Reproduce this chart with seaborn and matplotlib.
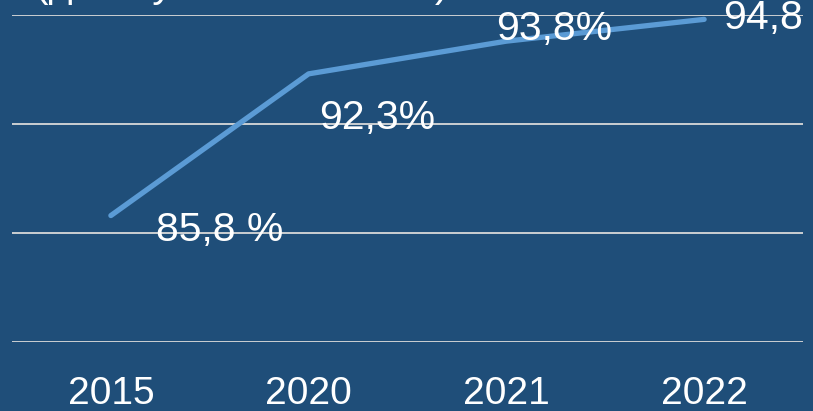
import pandas as pd
import matplotlib
matplotlib.use("Agg")
import matplotlib.pyplot as plt
import seaborn as sns

years = ["2015", "2020", "2021", "2022"]
values = [85.8, 92.3, 93.8, 94.8]
labels = ["85,8 %", "92,3%", "93,8%", "94,8"]
yticks = [80, 85, 90, 95]
title = "(доля учеников школ)"

bg = "#1F4E79"
line_col = "#5B9BD5"

df = pd.DataFrame({"year": years, "value": values})

sns.set_style("white")
plt.rcParams["font.family"] = ["Liberation Sans", "DejaVu Sans"]

fig = plt.figure(figsize=(8.13, 4.11), dpi=100, facecolor=bg)
W, H = 813, 411
# axes: x 12..803 px, y 15..342 px (top = 95, bottom = 80)
ax = fig.add_axes([12 / W, (H - 342) / H, (803 - 12) / W, (342 - 15) / H])
ax.set_facecolor(bg)

sns.lineplot(data=df, x="year", y="value", ax=ax, color=line_col,
             linewidth=3.8, solid_capstyle="round", sort=False)

ax.set_xlim(-0.5, 3.5)
ax.set_ylim(80, 95)
ax.set_yticks(yticks)
ax.yaxis.grid(True, color="#D9D9D9", linewidth=1.3)
ax.set_axisbelow(True)
ax.tick_params(axis="y", left=False, labelleft=False)
ax.tick_params(axis="x", bottom=False, colors="white", pad=21)
for t in ax.get_xticklabels():
    t.set_family(["Liberation Sans Narrow", "Liberation Sans"])
    t.set_fontsize(28)
ax.set_xlabel("")
ax.set_ylabel("")
for s in ax.spines.values():
    s.set_visible(False)

# data labels (offsets in pixels)
offsets = [(45, -14), (10, -44), (-10, 12), (19, 1)]
for i, (v, lab) in enumerate(zip(values, labels)):
    ax.annotate(lab, (i, v), xytext=offsets[i], textcoords="offset pixels",
                ha="left", va="center", color="white", fontsize=29.5,
                annotation_clip=False, clip_on=False)

# title sitting mostly above the visible area
fig.text(35 / W, 1 + 3 / H, title, color="white", fontsize=29.5,
         ha="left", va="baseline")

fig.savefig("out.png", dpi=100, facecolor=bg)
